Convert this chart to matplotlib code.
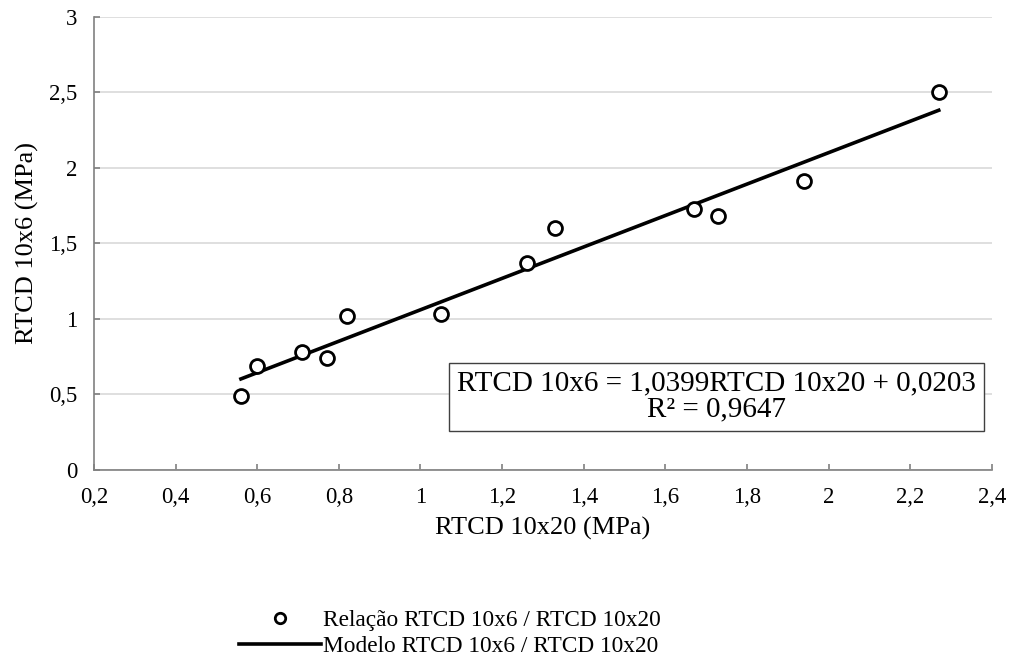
import numpy as np
import matplotlib
matplotlib.use("Agg")
import matplotlib.pyplot as plt
from matplotlib.ticker import FuncFormatter

plt.rcParams['font.family'] = ['Liberation Serif', 'DejaVu Serif']

# dados
rtcd_10x20 = [0.56, 0.60, 0.71, 0.77, 0.82, 1.05, 1.26, 1.33, 1.67, 1.73, 1.94, 2.27]
rtcd_10x6 = [0.49, 0.69, 0.78, 0.74, 1.02, 1.03, 1.37, 1.60, 1.73, 1.68, 1.91, 2.50]
coef_a = 1.0399
coef_b = 0.0203
r2 = 0.9647

fig = plt.figure(figsize=(10.11, 6.69), dpi=100)
ax = fig.add_axes([0.093, 0.2975, 0.888, 0.6775])

ax.plot(rtcd_10x20, rtcd_10x6, 'o', ms=10, mfc='white', mec='black', mew=2,
        label='Relação RTCD 10x6 / RTCD 10x20', zorder=3)
xl = np.array([min(rtcd_10x20), max(rtcd_10x20)])
ax.plot(xl, coef_a * xl + coef_b, '-', color='black', lw=2.6,
        label='Modelo RTCD 10x6 / RTCD 10x20', zorder=2)

ax.set_xlim(0.2, 2.4)
ax.set_ylim(0, 3)
ax.set_xticks(np.arange(0.2, 2.41, 0.2))
ax.set_yticks(np.arange(0, 3.01, 0.5))
fmt = FuncFormatter(lambda v, p: ('%g' % round(v, 2)).replace('.', ','))
ax.xaxis.set_major_formatter(fmt)
ax.yaxis.set_major_formatter(fmt)
ax.tick_params(labelsize=16.4, colors='#808080', labelcolor='black', length=4.5,
               width=1.2, direction='in', pad=12)
ax.grid(axis='y', color='#d9d9d9', lw=1.2)
ax.set_axisbelow(True)
for s in ['top', 'right']:
    ax.spines[s].set_visible(False)
for s in ['left', 'bottom']:
    ax.spines[s].set_color('#808080')
    ax.spines[s].set_linewidth(1.2)

ax.set_xlabel('RTCD 10x20 (MPa)', fontsize=19, labelpad=7)
ax.set_ylabel('RTCD 10x6 (MPa)', fontsize=19, labelpad=7)

eq = 'RTCD 10x6 = %sRTCD 10x20 + %s\nR² = %s' % (
    str(coef_a).replace('.', ','), str(coef_b).replace('.', ','), str(r2).replace('.', ','))
ax.text(1.726, 0.484, eq, ha='center', va='center', fontsize=21, linespacing=1.0,
        bbox=dict(boxstyle='square,pad=0.28', fc='white', ec='#404040', lw=1))

fig.legend(loc='lower center', bbox_to_anchor=(0.445, -0.014), ncol=1, frameon=False,
           fontsize=16.8, handlelength=3.5, handletextpad=0.1, labelspacing=0.2,
           markerscale=0.75)

fig.savefig('out.png', dpi=100)
